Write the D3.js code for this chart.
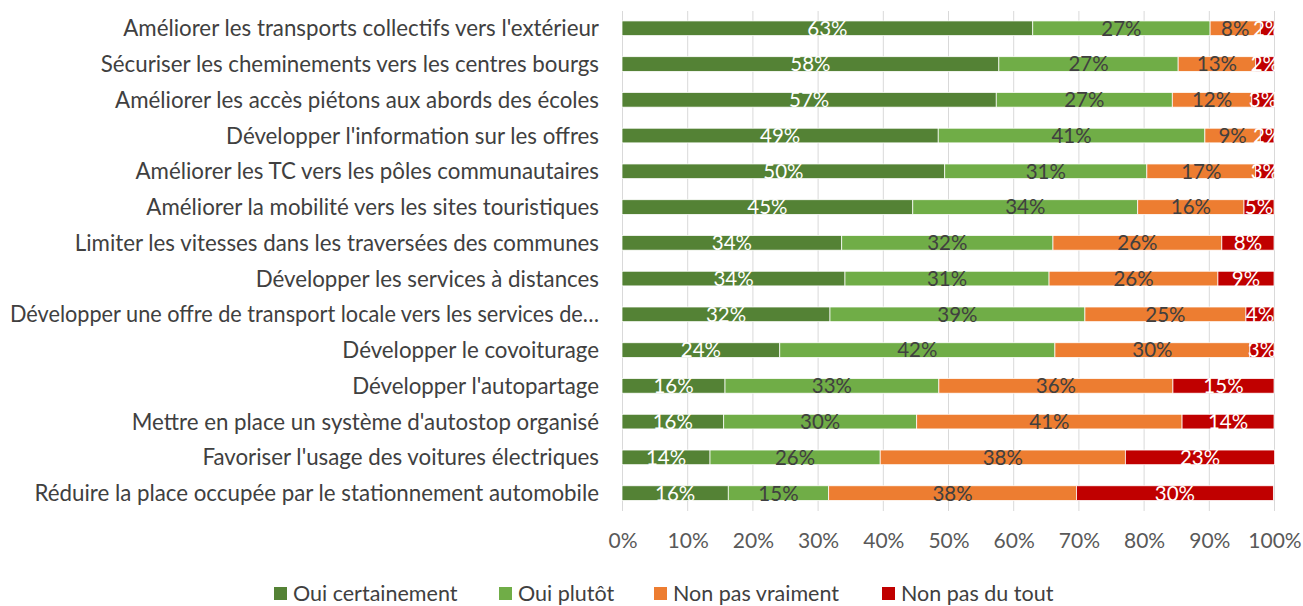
<!DOCTYPE html>
<html><head><meta charset="utf-8">
<script src="https://cdn.jsdelivr.net/npm/d3@7"></script>
<style>body{margin:0;background:#fff;} text{font-family:Lato,sans-serif;}</style>
</head><body><svg id="c" width="1303" height="606"></svg>
<script>
const categories = [
"Améliorer les transports collectifs vers l'extérieur",
"Sécuriser les cheminements vers les centres bourgs",
"Améliorer les accès piétons aux abords des écoles",
"Développer l'information sur les offres",
"Améliorer les TC vers les pôles communautaires",
"Améliorer la mobilité vers les sites touristiques",
"Limiter les vitesses dans les traversées des communes",
"Développer les services à distances",
"Développer une offre de transport locale vers les services de…",
"Développer le covoiturage",
"Développer l'autopartage",
"Mettre en place un système d'autostop organisé",
"Favoriser l'usage des voitures électriques",
"Réduire la place occupée par le stationnement automobile"];
const seriesNames = ["Oui certainement","Oui plutôt","Non pas vraiment","Non pas du tout"];
const ouiCertainement = [63.0,57.8,57.4,48.5,49.5,44.6,33.7,34.2,31.9,24.2,15.8,15.6,13.5,16.3];
const ouiPlutot       = [27.2,27.5,27.0,40.9,31.0,34.5,32.4,31.3,39.1,42.2,32.8,29.6,26.1,15.4];
const nonPasVraiment  = [7.7,11.9,12.2,8.5,16.7,16.3,25.9,25.9,24.7,29.9,35.9,40.7,37.6,38.0];
const nonPasDuTout    = [2.1,2.8,3.4,2.1,2.8,4.6,8.0,8.6,4.3,3.7,15.5,14.1,22.9,30.2];
const labels = [
 ["63%","27%","8%","2%"],["58%","27%","13%","2%"],["57%","27%","12%","3%"],["49%","41%","9%","2%"],
 ["50%","31%","17%","3%"],["45%","34%","16%","5%"],["34%","32%","26%","8%"],["34%","31%","26%","9%"],
 ["32%","39%","25%","4%"],["24%","42%","30%","3%"],["16%","33%","36%","15%"],["16%","30%","41%","14%"],
 ["14%","26%","38%","23%"],["16%","15%","38%","30%"]];
const tickValues = [0,10,20,30,40,50,60,70,80,90,100];
const colors = ["#548235","#70ad47","#ed7d31","#c00000"];
const labelColors = ["#ffffff","#404040","#404040","#ffffff"];

const svg = d3.select("#c");
const x = d3.scaleLinear().domain([0,100]).range([622,1274]);
const y = d3.scaleBand().domain(categories).range([10.4,511]).paddingInner(0.59).paddingOuter(0.295);

// gridlines
svg.append("g").selectAll("line").data(tickValues).join("line")
  .attr("x1",d=>x(d)+0.5).attr("x2",d=>x(d)+0.5).attr("y1",11).attr("y2",511)
  .attr("stroke","#d9d9d9").attr("stroke-width",1);

const series = [ouiCertainement,ouiPlutot,nonPasVraiment,nonPasDuTout];
const rows = categories.map((c,i)=>({cat:c, vals:series.map(s=>s[i]), labs:labels[i]}));
const stack = d3.stack().keys([0,1,2,3]).value((d,k)=>d.vals[k]);
const stacked = stack(rows);

stacked.forEach((layer,k)=>{
  const g = svg.append("g");
  g.selectAll("rect").data(layer).join("rect")
    .attr("x",d=>x(d[0])).attr("width",d=>x(d[1])-x(d[0]))
    .attr("y",d=>y(d.data.cat)).attr("height",y.bandwidth())
    .attr("fill",colors[k]).attr("stroke","#ffffff").attr("stroke-width",0.75);
});
stacked.forEach((layer,k)=>{
  svg.append("g").selectAll("text").data(layer).join("text")
    .attr("x",d=>(x(d[0])+x(d[1]))/2).attr("y",d=>y(d.data.cat)+y.bandwidth()/2)
    .attr("dy","0.36em").attr("text-anchor","middle")
    .attr("font-size",20.5).attr("fill",labelColors[k])
    .text(d=>d.data.labs[k]);
});

// category labels
const maxW = 589;
svg.append("g").selectAll("text").data(categories).join("text")
  .attr("x",599).attr("y",d=>y(d)+y.bandwidth()/2).attr("dy","0.36em")
  .attr("text-anchor","end").attr("font-size",22.3).attr("fill","#404040").text(d=>d)
  .each(function(){ const w=this.getComputedTextLength(); if(w>maxW){ d3.select(this).attr("textLength",maxW).attr("lengthAdjust","spacingAndGlyphs"); } });

// x axis
const ax = svg.append("g").attr("transform","translate(0.5,511)")
  .call(d3.axisBottom(x).tickValues(tickValues).tickFormat(d=>d+"%").tickSize(0).tickPadding(22));
ax.select(".domain").remove();
ax.selectAll("text").attr("font-size",21).attr("fill","#595959").attr("font-family","Lato");

// legend
const legX = [274,499,654,882];
const leg = svg.append("g");
seriesNames.forEach((n,k)=>{
  leg.append("rect").attr("x",legX[k]).attr("y",587).attr("width",13).attr("height",13).attr("fill",colors[k]);
  leg.append("text").attr("x",legX[k]+19).attr("y",593).attr("dy","0.36em").attr("font-size",21.5).attr("fill","#404040").text(n);
});
</script></body></html>
